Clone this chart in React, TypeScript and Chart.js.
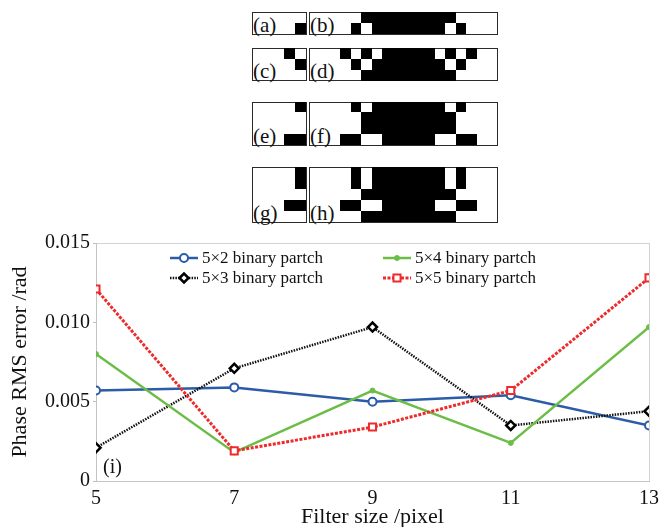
import React, { useEffect, useRef } from 'react';
import { Chart, registerables } from 'chart.js';
import { drawPoint } from 'chart.js/helpers';

Chart.register(...registerables);

// ---- curve data ----
const filterSizes = [5, 7, 9, 11, 13];
const rms5x2 = [0.0057, 0.0059, 0.005, 0.0054, 0.0035];
const rms5x3 = [0.0021, 0.0071, 0.0097, 0.0035, 0.0044];
const rms5x4 = [0.008, 0.0018, 0.0057, 0.0024, 0.0097];
const rms5x5 = [0.0121, 0.0019, 0.0034, 0.0057, 0.0128];
const seriesLabels = ['5×2 binary partch', '5×3 binary partch', '5×4 binary partch', '5×5 binary partch'];
const yTicks = [0, 0.005, 0.01, 0.015];

// ---- binary patches: single patch (left) and assembled filter (right) ----
const smallPatches = [
  ['00000', '00001'],
  ['00010', '00001', '00000'],
  ['00001', '00000', '00000', '00011'],
  ['00001', '00001', '00000', '00011', '00000'],
];
const largePatches = [
  ['000001111111110000', '000010111111101000'],
  ['000101011111010100', '000010111111101000', '000001111111110000'],
  ['000010111111101000', '000001111111110000', '000001111111110000', '000110011111001100'],
  ['000010111111101000', '000010111111101000', '000001111111110000', '000110011111001100', '000001111111110000'],
];
const smallTags = ['(a)', '(c)', '(e)', '(g)'];
const largeTags = ['(b)', '(d)', '(f)', '(h)'];

// box placement for each pair of patches
const boxTops = [12, 48, 102, 167];
const boxHeights = [22.5, 33, 43.5, 56];
const SMALL_LEFT = 252;
const SMALL_W = 54.5;
const LARGE_LEFT = 309;
const LARGE_W = 189;
const BORDER = 1.5;
const SERIF = '"Liberation Serif", "Times New Roman", serif';

function Patch(props: { rows: string[]; left: number; top: number; width: number; height: number; tag: string }) {
  const { rows, left, top, width, height, tag } = props;
  const cw = width / rows[0].length;
  const ch = height / rows.length;
  const cells: React.ReactNode[] = [];
  rows.forEach((r, i) =>
    r.split('').forEach((c, j) => {
      if (c === '1') {
        cells.push(
          <div
            key={i + '-' + j}
            style={{
              position: 'absolute',
              left: j * cw - BORDER,
              top: i * ch - BORDER,
              width: cw,
              height: ch,
              background: '#000',
            }}
          />
        );
      }
    })
  );
  return (
    <div
      style={{
        position: 'absolute',
        left,
        top,
        width,
        height,
        border: `${BORDER}px solid #2b2b2b`,
        boxSizing: 'border-box',
        background: '#fff',
      }}
    >
      {cells}
      <span
        style={{
          position: 'absolute',
          left: 0,
          bottom: -1,
          fontFamily: SERIF,
          fontSize: 21,
          lineHeight: '20px',
          color: '#111',
        }}
      >
        {tag}
      </span>
    </div>
  );
}

// legend drawn inside the plot area, two columns
const insetLegend = {
  id: 'insetLegend',
  afterDraw(chart: any) {
    const { ctx, chartArea } = chart;
    ctx.save();
    chart.data.datasets.forEach((ds: any, i: number) => {
      const col = Math.floor(i / 2);
      const row = i % 2;
      const x0 = chartArea.left + (col === 0 ? 74 : 287);
      const y = chartArea.top + (row === 0 ? 15 : 35);
      ctx.strokeStyle = ds.borderColor;
      ctx.lineWidth = ds.borderWidth;
      ctx.setLineDash(ds.borderDash || []);
      ctx.beginPath();
      ctx.moveTo(x0, y);
      ctx.lineTo(x0 + 28, y);
      ctx.stroke();
      ctx.setLineDash([]);
      ctx.fillStyle = ds.pointBackgroundColor;
      ctx.strokeStyle = ds.pointBorderColor;
      ctx.lineWidth = ds.pointBorderWidth;
      drawPoint(
        ctx,
        { pointStyle: ds.pointStyle, radius: ds.pointRadius, borderWidth: ds.pointBorderWidth, rotation: 0 },
        x0 + 14,
        y
      );
      ctx.fillStyle = '#111';
      ctx.font = `17px ${SERIF}`;
      ctx.textBaseline = 'middle';
      ctx.textAlign = 'left';
      ctx.fillText(ds.label, x0 + 32, y + 1);
    });
    ctx.font = `20px ${SERIF}`;
    ctx.fillStyle = '#111';
    ctx.textBaseline = 'middle';
    ctx.fillText('(i)', chartArea.left + 7, chartArea.bottom - 13);
    ctx.restore();
  },
};

function RmsChart() {
  const ref = useRef<HTMLCanvasElement | null>(null);
  useEffect(() => {
    if (!ref.current) return;
    const chart = new Chart(ref.current, {
      type: 'line',
      data: {
        labels: filterSizes,
        datasets: [
          {
            label: seriesLabels[0],
            data: filterSizes.map((x, i) => ({ x, y: rms5x2[i] })),
            borderColor: '#2c5ba8',
            borderWidth: 2.5,
            pointStyle: 'circle',
            pointRadius: 4,
            pointBackgroundColor: '#ffffff',
            pointBorderColor: '#2c5ba8',
            pointBorderWidth: 2,
            order: 3,
          },
          {
            label: seriesLabels[1],
            data: filterSizes.map((x, i) => ({ x, y: rms5x3[i] })),
            borderColor: '#111111',
            borderWidth: 2.5,
            borderDash: [1.5, 1.2],
            pointStyle: 'rectRot',
            pointRadius: 4.5,
            pointBackgroundColor: '#ffffff',
            pointBorderColor: '#000000',
            pointBorderWidth: 2.5,
            order: 2,
          },
          {
            label: seriesLabels[2],
            data: filterSizes.map((x, i) => ({ x, y: rms5x4[i] })),
            borderColor: '#6cbd45',
            borderWidth: 2.5,
            pointStyle: 'circle',
            pointRadius: 2.5,
            pointBackgroundColor: '#6cbd45',
            pointBorderColor: '#6cbd45',
            pointBorderWidth: 1,
            order: 1,
          },
          {
            label: seriesLabels[3],
            data: filterSizes.map((x, i) => ({ x, y: rms5x5[i] })),
            borderColor: '#ee2a2a',
            borderWidth: 3,
            borderDash: [3, 1.5],
            pointStyle: 'rect',
            pointRadius: 5,
            pointBackgroundColor: '#ffffff',
            pointBorderColor: '#ee2a2a',
            pointBorderWidth: 2,
            order: 0,
          },
        ],
      },
      options: {
        animation: false,
        responsive: false,
        events: [],
        layout: { padding: { top: 18, right: 11, bottom: 0, left: 0 } },
        elements: { line: { tension: 0, fill: false } },
        plugins: { legend: { display: false }, tooltip: { enabled: false } },
        scales: {
          x: {
            type: 'linear',
            min: 5,
            max: 13,
            afterFit: (s: any) => {
              s.height = 46;
            },
            afterBuildTicks: (s: any) => {
              s.ticks = filterSizes.map((v) => ({ value: v }));
            },
            ticks: {
              color: '#111',
              font: { family: SERIF, size: 20 },
              padding: 6,
              maxRotation: 0,
            },
            grid: {
              drawTicks: false,
              color: (c: any) => (c.tick && c.tick.value === 13 ? '#d2d2d2' : 'rgba(0,0,0,0)'),
            },
            border: { color: '#c4c4c4', width: 1 },
            title: {
              display: true,
              text: 'Filter size /pixel',
              color: '#111',
              font: { family: SERIF, size: 22, lineHeight: 1 },
              padding: { top: 0, bottom: -1 },
            },
          },
          y: {
            min: 0,
            max: 0.015,
            afterFit: (s: any) => {
              s.width = 96;
            },
            afterBuildTicks: (s: any) => {
              s.ticks = yTicks.map((v) => ({ value: v }));
            },
            ticks: {
              color: '#111',
              font: { family: SERIF, size: 20 },
              padding: 3,
              callback: (v: any) => (v === 0 ? '0' : Number(v).toFixed(3)),
            },
            grid: {
              drawTicks: true,
              tickLength: 3,
              tickColor: '#bdbdbd',
              color: (c: any) => (c.tick && c.tick.value === 0.015 ? '#d2d2d2' : 'rgba(0,0,0,0)'),
            },
            border: { color: '#c4c4c4', width: 1 },
            title: {
              display: true,
              text: 'Phase RMS error /rad',
              color: '#111',
              font: { family: SERIF, size: 22, lineHeight: 1.2 },
              padding: { top: 7, bottom: 0 },
            },
          },
        },
      },
      plugins: [insetLegend],
    });
    return () => chart.destroy();
  }, []);
  return (
    <canvas
      ref={ref}
      width={665}
      height={302}
      style={{ position: 'absolute', left: 0, top: 225, width: 665, height: 302 }}
    />
  );
}

export default function App() {
  useEffect(() => {
    document.body.style.margin = '0';
    document.body.style.background = '#fff';
  }, []);
  return (
    <div style={{ position: 'relative', width: 665, height: 527, overflow: 'hidden', background: '#fff' }}>
      {smallPatches.map((rows, i) => (
        <Patch
          key={'s' + i}
          rows={rows}
          left={SMALL_LEFT}
          top={boxTops[i]}
          width={SMALL_W}
          height={boxHeights[i]}
          tag={smallTags[i]}
        />
      ))}
      {largePatches.map((rows, i) => (
        <Patch
          key={'l' + i}
          rows={rows}
          left={LARGE_LEFT}
          top={boxTops[i]}
          width={LARGE_W}
          height={boxHeights[i]}
          tag={largeTags[i]}
        />
      ))}
      <RmsChart />
    </div>
  );
}
